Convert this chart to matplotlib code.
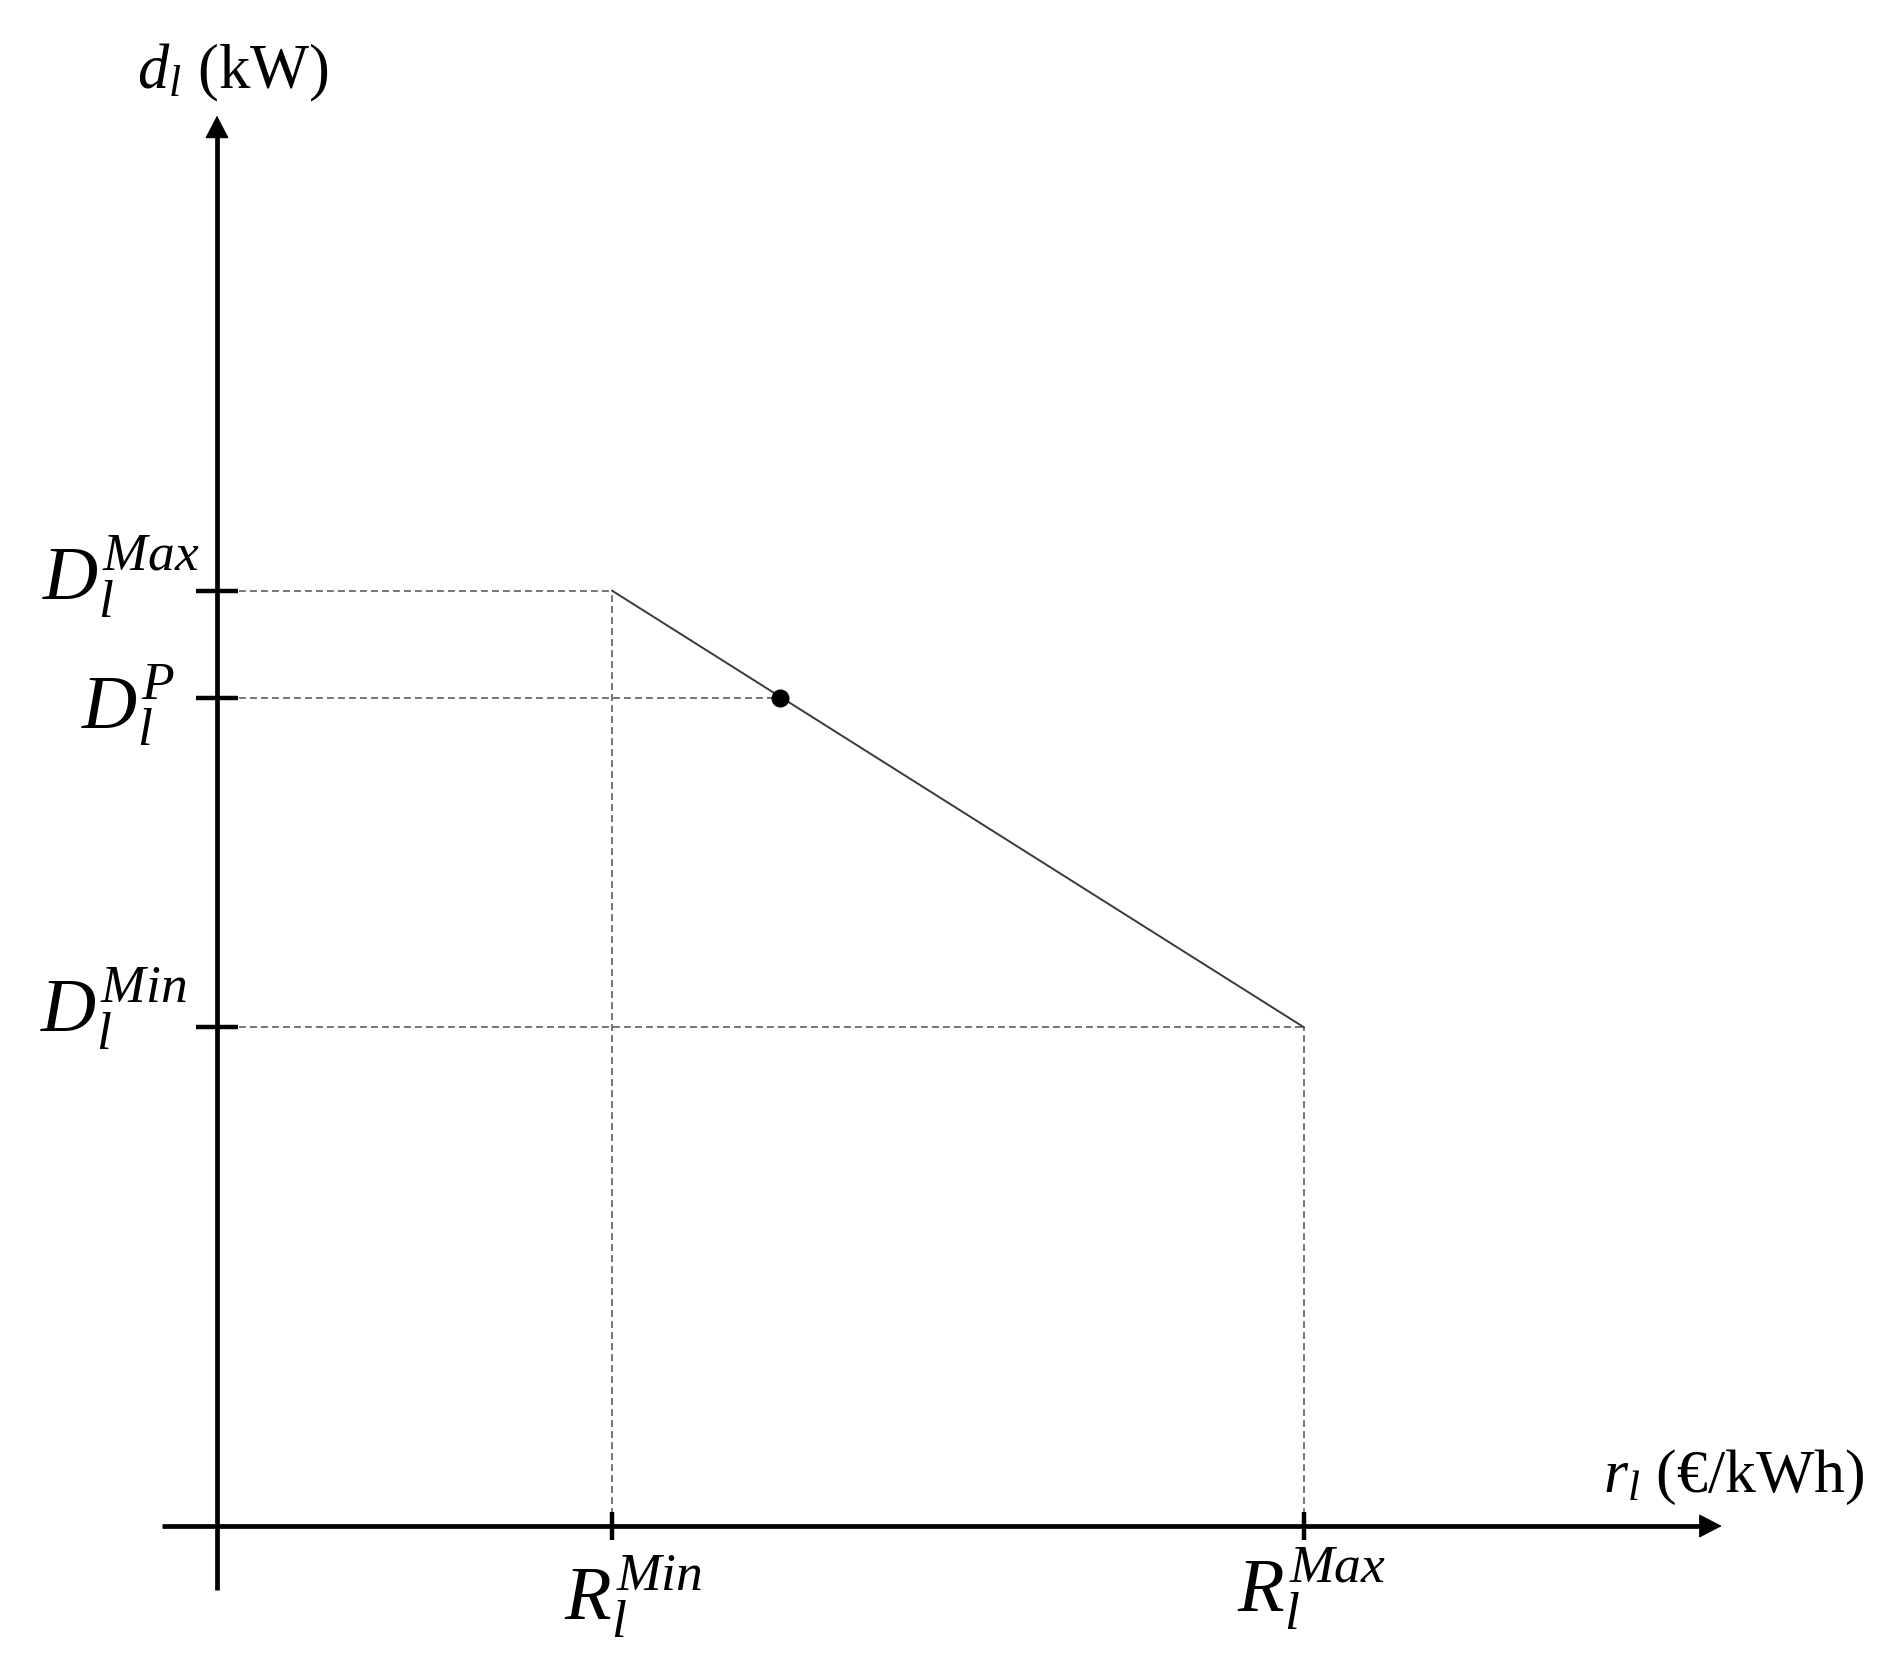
import matplotlib
matplotlib.use("Agg")
import matplotlib.pyplot as plt
import matplotlib.patches as mpatches

# ---- data (conceptual units) ----
r_min = 4.0      # R_l^Min
r_max = 11.0     # R_l^Max
d_max = 7.5      # D_l^Max
d_min = 4.0      # D_l^Min
r_p = 5.7        # price of the marked point
d_p = 6.64       # D_l^P

y_tick_values = [d_max, d_p, d_min]
y_tick_labels = [r"$D_l^{Max}$", r"$D_l^{P}$", r"$D_l^{Min}$"]
x_tick_values = [r_min, r_max]
x_tick_labels = [r"$R_l^{Min}$", r"$R_l^{Max}$"]
y_axis_label = r"$d_l$ (kW)"
x_axis_label = r"$r_l$ (€/kWh)"

plt.rcParams['mathtext.fontset'] = 'custom'
plt.rcParams['mathtext.it'] = 'Liberation Serif:italic'
plt.rcParams['mathtext.rm'] = 'Liberation Serif'
plt.rcParams['font.family'] = ['Liberation Serif', 'DejaVu Serif']

W, H, DPI = 1901, 1672, 100
fig = plt.figure(figsize=(W / DPI, H / DPI), dpi=DPI)
ax = fig.add_axes([0, 0, 1, 1])
ax.set_axis_off()

# layout: origin at pixel (217, 1526), 98.8 px per x unit, 124.7 px per y unit
ox, oy, sx, sy = 217.0, 1526.0, 98.8, 124.7
ax.set_xlim(-ox / sx, (W - ox) / sx)
ax.set_ylim(-(H - oy) / sy, oy / sy)

x_axis_start, x_axis_end = -0.56, 15.23
y_axis_start, y_axis_end = -0.51, 11.31

AX_LW = 3.4
# axes lines
ax.plot([x_axis_start, x_axis_end - 0.15], [0, 0], color='black', lw=AX_LW,
        solid_capstyle='butt', zorder=3)
ax.plot([0, 0], [y_axis_start, y_axis_end - 0.12], color='black', lw=AX_LW,
        solid_capstyle='butt', zorder=3)
head = mpatches.ArrowStyle('-|>', head_length=15, head_width=7.8)
ax.annotate('', xy=(x_axis_end, 0), xytext=(x_axis_end - 1.0, 0),
            arrowprops=dict(arrowstyle=head, mutation_scale=1, color='black',
                            lw=0.8, shrinkA=0, shrinkB=0), zorder=4)
ax.annotate('', xy=(0, y_axis_end), xytext=(0, y_axis_end - 1.0),
            arrowprops=dict(arrowstyle=head, mutation_scale=1, color='black',
                            lw=0.8, shrinkA=0, shrinkB=0), zorder=4)

# tick marks
ax.plot([0] * len(y_tick_values), y_tick_values, linestyle='none', marker='_',
        markersize=30, markeredgewidth=3.2, color='black', zorder=4)
ax.plot(x_tick_values, [0] * len(x_tick_values), linestyle='none', marker='|',
        markersize=19.5, markeredgewidth=3.2, color='black', zorder=4)

# dashed guide lines
dash_kw = dict(color='#505050', lw=1.1, linestyle=(0, (4.5, 2.7)), zorder=2)
ax.plot([0, r_min], [d_max, d_max], **dash_kw)
ax.plot([r_min, r_min], [0, d_max], **dash_kw)
ax.plot([0, r_p], [d_p, d_p], **dash_kw)
ax.plot([0, r_max], [d_min, d_min], **dash_kw)
ax.plot([r_max, r_max], [0, d_min], **dash_kw)

# demand curve
ax.plot([r_min, r_max], [d_max, d_min], color='#3a3a3a', lw=1.4, zorder=3)
ax.plot([r_p], [d_p], marker='o', markersize=12, color='black',
        linestyle='none', zorder=5)

# tick labels
FS_T = 55
y_offsets = [(-17, -10), (-42, -31), (-30, -5)]
for val, lab, (dx, dy) in zip(y_tick_values, y_tick_labels, y_offsets):
    ax.annotate(lab, xy=(0, val), xytext=(dx, dy), textcoords='offset pixels',
                ha='right', va='baseline', fontsize=FS_T)
x_offsets = [(-48, -94), (-67, -86)]
for val, lab, (dx, dy) in zip(x_tick_values, x_tick_labels, x_offsets):
    ax.annotate(lab, xy=(val, 0), xytext=(dx, dy), textcoords='offset pixels',
                ha='left', va='baseline', fontsize=FS_T)

# axis labels
ax.annotate(y_axis_label, xy=(0, y_axis_end), xytext=(-80, 27),
            textcoords='offset pixels', ha='left', va='baseline', fontsize=45)
ax.annotate(x_axis_label, xy=(x_axis_end, 0), xytext=(-119, 34),
            textcoords='offset pixels', ha='left', va='baseline', fontsize=44.5)

fig.savefig('out.png', dpi=DPI, facecolor='white')
